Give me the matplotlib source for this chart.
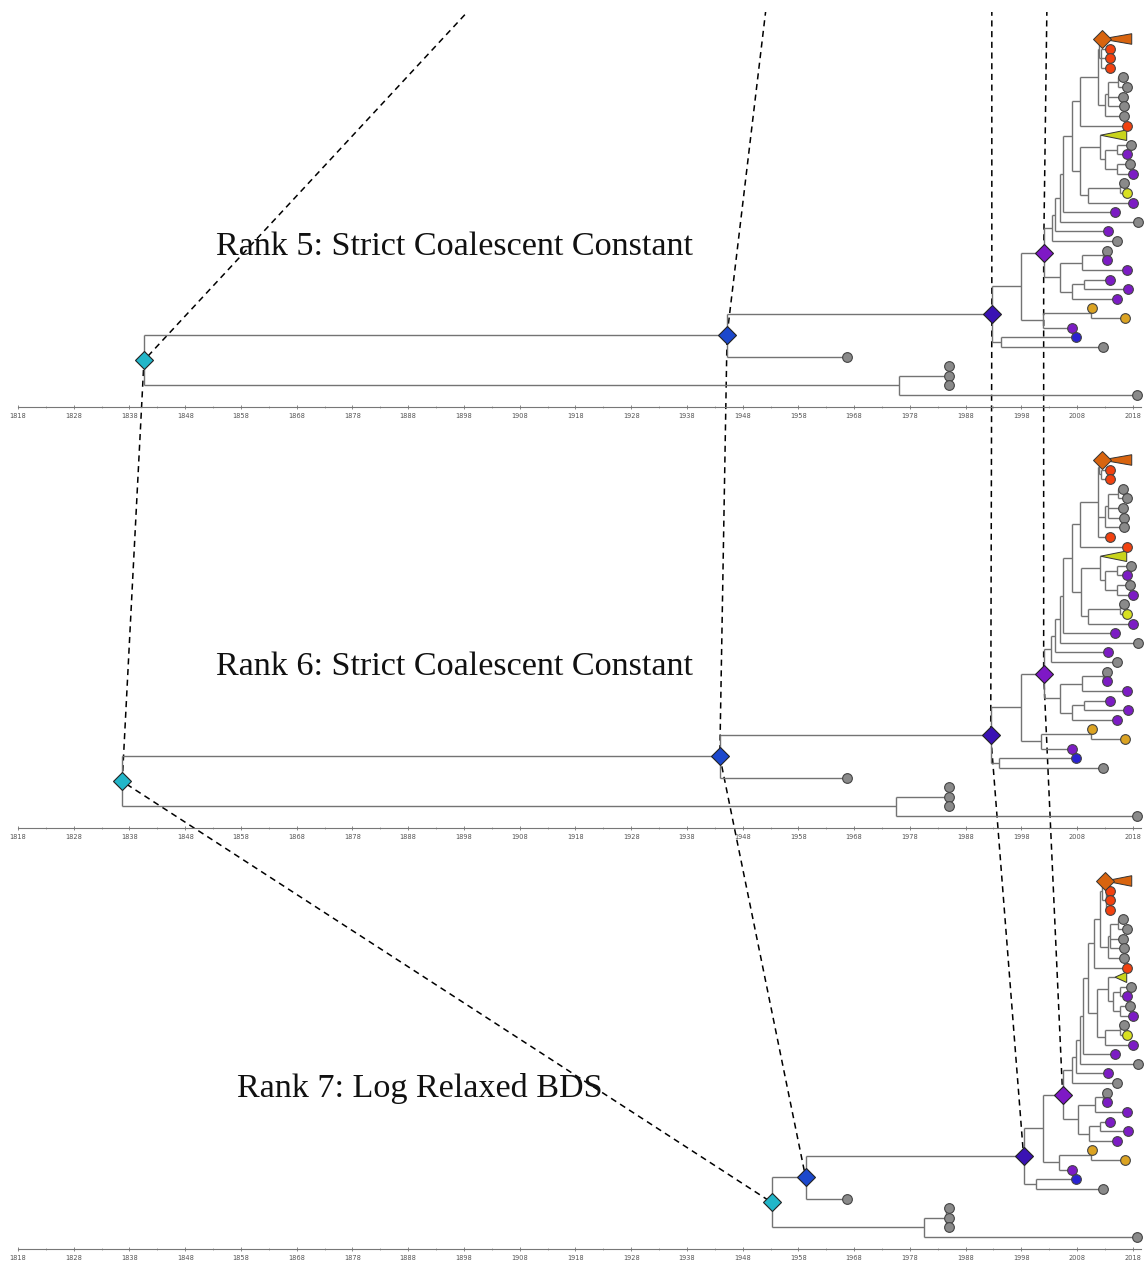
import matplotlib
matplotlib.use('Agg')
import matplotlib.pyplot as plt
from matplotlib.patches import Polygon
from matplotlib.ticker import FixedLocator
import numpy as np

W, H = 1144, 1266

# ---------------- data ----------------
PANEL_TITLES = ["Rank 5: Strict Coalescent Constant",
                "Rank 6: Strict Coalescent Constant",
                "Rank 7: Log Relaxed BDS"]

TICK_YEARS = list(range(1818, 2019, 10))
MINOR_YEARS = list(range(1823, 2019, 10))

# tip sampling dates (same in every panel)
TIP_DATES = {
    't02': 2013.9, 't03': 2013.9, 't04': 2013.9, 't05': 2016.2, 't06': 2016.9,
    't07': 2016.2, 't08': 2016.4, 't09': 2016.4, 't10': 2016.9, 't12': 2017.6,
    't13': 2016.9, 't14': 2017.5, 't15': 2018.0, 't16': 2016.4, 't17': 2016.9,
    't18': 2018.0, 't19': 2014.8, 't20': 2018.9, 't21': 2013.5, 't22': 2015.1,
    't23': 2013.3, 't24': 2013.3, 't25': 2016.9, 't26': 2013.9, 't27': 2017.1,
    't28': 2015.1, 't29': 2010.6, 't30': 2016.6, 't31': 2007.1, 't32': 2007.8,
    't33': 2012.6, 't34': 1966.7, 't35': 1985.0, 't36': 1985.0, 't37': 1985.0,
    't38': 2018.7,
}
TIP_GROUP = {
    't02': 'red', 't03': 'red', 't04': 'red', 't05': 'grey', 't06': 'grey',
    't07': 'grey', 't08': 'grey', 't09': 'grey', 't10': 'red', 't12': 'grey',
    't13': 'purple', 't14': 'grey', 't15': 'purple', 't16': 'grey', 't17': 'yellow',
    't18': 'purple', 't19': 'purple', 't20': 'grey', 't21': 'purple', 't22': 'grey',
    't23': 'grey', 't24': 'purple', 't25': 'purple', 't26': 'purple', 't27': 'purple',
    't28': 'purple', 't29': 'gold', 't30': 'gold', 't31': 'purple', 't32': 'blue',
    't33': 'grey', 't34': 'grey', 't35': 'grey', 't36': 'grey', 't37': 'grey',
    't38': 'grey',
}
GROUP_COLORS = {'red': '#f2410f', 'grey': '#8a8a8a', 'purple': '#7c1cc4',
                'yellow': '#d8e021', 'gold': '#dba322', 'blue': '#2a22d2'}

# collapsed clades: youngest tip date and colour
COLLAPSED = {'Cor': (2017.8, '#d8640f'), 'Cye': (2016.9, '#c9d41c')}

# topology (children in drawing order)
TREE_A = {
    'R': ['B1', 'A'], 'A': ['G3', 't38'], 'G3': ['t35', 't36', 't37'],
    'B1': ['IN', 't34'], 'IN': ['NB', 'NC'], 'NC': ['t32', 't33'],
    'NB': ['P', 'ND'], 'ND': ['NE', 't31'], 'NE': ['t29', 't30'],
    'P': ['K1', 'F'], 'F': ['G', 'I'], 'G': ['Hn', 't25'], 'Hn': ['t23', 't24'],
    'I': ['J', 't28'], 'J': ['t26', 't27'],
    'K1': ['K2', 't22'], 'K2': ['K3', 't21'], 'K3': ['K4', 't20'],
    'K4': ['K5', 't19'], 'K5': ['L1', 'M'], 'L1': ['L2', 't10'],
    'L2': ['U', 'Lg'], 'U': ['Cor', 'U2'], 'U2': ['t02', 't03', 't04'],
    'Lg': ['LgA', 't09'], 'LgA': ['LgB', 't07', 't08'], 'LgB': ['t05', 't06'],
    'M': ['M1', 'M2'], 'M1': ['Cye', 'M1b'], 'M1b': ['Ma', 'Mb'],
    'Ma': ['t12', 't13'], 'Mb': ['t14', 't15'], 'M2': ['Mc', 't18'],
    'Mc': ['t16', 't17'],
}
TREE_B = dict(TREE_A)
TREE_B['L2'] = ['U', 'Lg', 't04']
TREE_B['U2'] = ['t02', 't03']
TREES = [TREE_A, TREE_B, TREE_A]

# internal node dates for the three panels
NODE_NAMES = ['R', 'A', 'G3', 'B1', 'IN', 'NC', 'NB', 'ND', 'NE', 'P', 'F', 'G', 'Hn',
              'I', 'J', 'K1', 'K2', 'K3', 'K4', 'K5', 'L1', 'L2', 'U', 'Cor', 'U2',
              'Lg', 'LgA', 'LgB', 'M', 'M1', 'Cye', 'M1b', 'Ma', 'Mb', 'M2', 'Mc']
DATES_RANK5 = [1840.6, 1976.0, 1984.8, 1945.2, 1992.7, 1994.3, 1997.9, 2001.9, 2010.5,
               2002.0, 2004.9, 2008.9, 2012.6, 2007.1, 2009.2, 2003.5, 2004.0, 2004.9,
               2005.4, 2007.1, 2008.5, 2011.7, 2011.9, 2012.4, 2012.2, 2013.0, 2013.5,
               2015.3, 2008.5, 2012.1, 2012.2, 2013.0, 2015.1, 2015.1, 2009.9, 2015.7]
DATES_RANK6 = [1836.7, 1975.5, 1984.8, 1943.9, 1992.5, 1994.0, 1997.9, 2001.6, 2010.5,
               2002.0, 2004.9, 2008.9, 2012.6, 2007.1, 2009.2, 2003.3, 2004.0, 2004.9,
               2005.4, 2007.1, 2008.5, 2011.7, 2011.9, 2012.4, 2012.3, 2013.0, 2013.5,
               2015.3, 2008.7, 2012.1, 2012.2, 2013.0, 2015.1, 2015.1, 2009.9, 2015.7]
DATES_RANK7 = [1953.2, 1980.5, 1984.5, 1959.3, 1998.4, 2000.6, 2001.9, 2004.7, 2010.5,
               2005.4, 2008.1, 2011.2, 2012.6, 2010.1, 2012.1, 2007.1, 2007.8, 2008.5,
               2009.0, 2009.9, 2011.0, 2012.1, 2012.4, 2013.0, 2013.2, 2013.5, 2013.9,
               2015.3, 2011.5, 2013.5, 2014.8, 2014.4, 2015.7, 2015.7, 2013.0, 2015.7]
PANEL_DATES = [DATES_RANK5, DATES_RANK6, DATES_RANK7]

# highlighted nodes (diamonds) linked across panels
DIAMONDS = {'R': '#22b6c9', 'B1': '#1c48cc', 'IN': '#3a12b4', 'P': '#7e18c6'}
# node dates in the preceding ranked tree (outside the picture)
PREV_DATES = {'R': 1910.7, 'B1': 1954.2, 'IN': 1992.7, 'P': 2003.0}

TITLE_POS = [(455, 247), (455, 667), (420, 1089)]

# ---------------- layout helpers ----------------
def layout(tree, root='R'):
    y = {}
    order = []

    def visit(n):
        if n in tree:
            for c in tree[n]:
                visit(c)
            ys = [y[c] for c in tree[n]]
            y[n] = (ys[0] + ys[-1]) / 2.0
        else:
            y[n] = float(len(order))
            order.append(n)
    visit(root)
    return y

fig = plt.figure(figsize=(W / 100, H / 100), dpi=100)

overlay = fig.add_axes([0, 0, 1, 1 - 12 / H], zorder=0)
overlay.set_xlim(0, W)
overlay.set_ylim(0, H - 12)
overlay.axis('off')

PANEL_STEP = 421
AX_H = 407
TIP_SP = (395 - 39) / 37.0
axes = []
panel_y = []
panel_d = []
for k in range(3):
    bottom_px = 407 + PANEL_STEP * k
    ax = fig.add_axes([18 / W, 1 - bottom_px / H, (W - 18) / W, AX_H / H], zorder=1)
    ax.patch.set_alpha(0)
    ax.set_xlim(1818, 2020)
    ax.set_ylim(37 + 12 / TIP_SP, -39 / TIP_SP)
    for s in ['left', 'top', 'right']:
        ax.spines[s].set_visible(False)
    ax.spines['bottom'].set_color('#777777')
    ax.spines['bottom'].set_linewidth(0.8)
    ax.spines['bottom'].set_bounds(1818, 2019.5)
    ax.set_yticks([])
    ax.set_xticks(TICK_YEARS)
    ax.set_xticklabels([str(t) for t in TICK_YEARS])
    ax.xaxis.set_minor_locator(FixedLocator(MINOR_YEARS))
    ax.tick_params(axis='x', which='major', direction='inout', length=3, width=0.6,
                   colors='#777777', labelsize=4.8, labelcolor='#555555', pad=2.5)
    ax.tick_params(axis='x', which='minor', direction='inout', length=2, width=0.5,
                   colors='#888888')

    tree = TREES[k]
    dates = dict(zip(NODE_NAMES, PANEL_DATES[k]))
    y = layout(tree)

    def when(n):
        return dates[n] if n in dates else TIP_DATES[n]

    for n, ch in tree.items():
        x0 = dates[n]
        ys = [y[c] for c in ch]
        ax.plot([x0, x0], [min(ys), max(ys)], color='#737373', lw=1.0,
                solid_capstyle='butt', zorder=1)
        for c in ch:
            ax.plot([x0, when(c)], [y[c], y[c]], color='#737373', lw=1.0,
                    solid_capstyle='butt', zorder=1)

    # collapsed clades
    for cname, (tmax, col) in COLLAPSED.items():
        tri = Polygon([[dates[cname], y[cname]], [tmax, y[cname] - 0.55],
                       [tmax, y[cname] + 0.55]], closed=True, facecolor=col,
                      edgecolor='#333333', lw=0.7, zorder=2)
        ax.add_patch(tri)
    ax.plot(dates['Cor'], y['Cor'], marker='D', ms=9, color=COLLAPSED['Cor'][1],
            mec='#333333', mew=0.7, zorder=4, ls='none')

    # tips
    for t, d in TIP_DATES.items():
        ax.plot(d, y[t], marker='o', ms=7.0, color=GROUP_COLORS[TIP_GROUP[t]],
                mec='#444444', mew=0.8, zorder=3, ls='none', clip_on=False)

    # highlighted diamonds
    for n, col in DIAMONDS.items():
        ax.plot(dates[n], y[n], marker='D', ms=9.5, color=col, mec='#222222',
                mew=0.8, zorder=4, ls='none')

    tx, ty = TITLE_POS[k]
    fig.text(tx / W, 1 - ty / H, PANEL_TITLES[k], ha='center', va='center',
             fontsize=24.6, family='Liberation Serif', color='#111111')

    axes.append(ax)
    panel_y.append(y)
    panel_d.append(dates)

# dashed links between matching nodes of consecutive trees
for n in DIAMONDS:
    pts = []
    p0 = axes[0].transData.transform((PREV_DATES[n], panel_y[0][n]))
    pts.append((p0[0], p0[1] + PANEL_STEP))
    for k in range(3):
        pts.append(tuple(axes[k].transData.transform((panel_d[k][n], panel_y[k][n]))))
    pts = np.array(pts)
    overlay.plot(pts[:, 0], pts[:, 1], color='black', lw=1.1, ls=(0, (4, 3)), zorder=1)

fig.savefig('out.png', dpi=100)
